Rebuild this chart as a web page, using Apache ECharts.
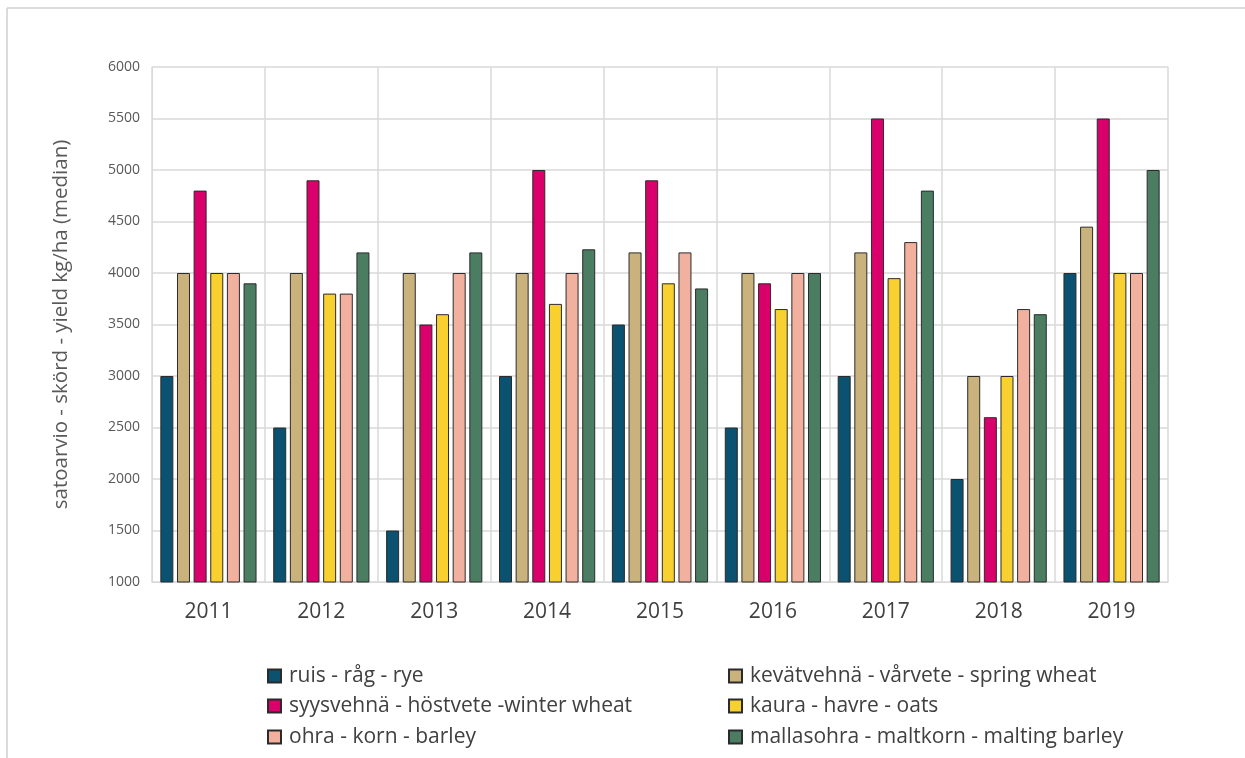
<!DOCTYPE html>
<html>
<head>
<meta charset="utf-8">
<script src="https://cdn.jsdelivr.net/npm/echarts@6/dist/echarts.min.js"></script>
<style>
html,body{margin:0;padding:0;background:#fff;}
#chart{width:1245px;height:758px;}
</style>
</head>
<body>
<div id="chart"></div>
<script>
const years = ['2011','2012','2013','2014','2015','2016','2017','2018','2019'];
const seriesNames = [
  'ruis - råg - rye',
  'kevätvehnä - vårvete - spring wheat',
  'syysvehnä - höstvete -winter wheat',
  'kaura - havre - oats',
  'ohra - korn - barley',
  'mallasohra - maltkorn - malting barley'
];
const rye          = [3000, 2500, 1500, 3000, 3500, 2500, 3000, 2000, 4000];
const springWheat  = [4000, 4000, 4000, 4000, 4200, 4000, 4200, 3000, 4450];
const winterWheat  = [4800, 4900, 3500, 5000, 4900, 3900, 5500, 2600, 5500];
const oats         = [4000, 3800, 3600, 3700, 3900, 3650, 3950, 3000, 4000];
const barley       = [4000, 3800, 4000, 4000, 4200, 4000, 4300, 3650, 4000];
const maltingBarley= [3900, 4200, 4200, 4230, 3850, 4000, 4800, 3600, 5000];
const yTicks = [1000, 1500, 2000, 2500, 3000, 3500, 4000, 4500, 5000, 5500, 6000];

const values = [rye, springWheat, winterWheat, oats, barley, maltingBarley];
const colors = ['#0b5170', '#c9b27c', '#d9006c', '#f8d030', '#f2b19e', '#4b7d62'];

// legend slots: [left, top] for each series, two columns x three rows
const legendLeft = [267, 728, 267, 728, 267, 728];
const legendTop  = [664, 664, 694, 694, 725, 725];

const chart = echarts.init(document.getElementById('chart'));
const option = {
  backgroundColor: '#ffffff',
  animation: false,
  textStyle: { fontFamily: 'Open Sans' },
  grid: { left: 152, right: 77, top: 67, bottom: 176 },
  xAxis: {
    type: 'category',
    data: years,
    axisLine: { show: true, lineStyle: { color: '#d9d9d9', width: 1 } },
    axisTick: { show: false },
    splitLine: { show: true, lineStyle: { color: '#d9d9d9', width: 1.5 } },
    axisLabel: { color: '#404040', fontSize: 21, margin: 20, fontFamily: 'Open Sans' }
  },
  yAxis: {
    type: 'value',
    min: yTicks[0],
    max: yTicks[yTicks.length - 1],
    interval: 500,
    name: 'satoarvio - skörd - yield kg/ha (median)',
    nameLocation: 'middle',
    nameRotate: 90,
    nameGap: 80,
    nameTextStyle: { color: '#595959', fontSize: 20.5, fontFamily: 'Open Sans' },
    axisLine: { show: true, lineStyle: { color: '#d9d9d9', width: 1 } },
    axisTick: { show: false },
    splitLine: { show: true, lineStyle: { color: '#d9d9d9', width: 1.5 } },
    axisLabel: { color: '#595959', fontSize: 14, margin: 12, fontFamily: 'Open Sans',
                 formatter: v => String(v) }
  },
  legend: seriesNames.map((name, i) => ({
    data: [name],
    left: legendLeft[i], top: legendTop[i],
    padding: 0,
    icon: 'rect',
    itemWidth: 13, itemHeight: 13,
    textStyle: { color: '#404040', fontSize: 21, lineHeight: 24, fontFamily: 'Open Sans', padding: [0, 0, 0, 3] }
  })),
  graphic: [
    { type: 'line', shape: { x1: 7, y1: 8, x2: 1245, y2: 8 }, style: { stroke: '#cfcfcf', lineWidth: 1.5 }, silent: true },
    { type: 'line', shape: { x1: 7, y1: 8, x2: 7, y2: 758 }, style: { stroke: '#cfcfcf', lineWidth: 1.5 }, silent: true }
  ],
  series: seriesNames.map((name, i) => ({
    name: name,
    type: 'bar',
    data: values[i],
    barWidth: 13,
    barGap: '28%',
    itemStyle: { color: colors[i], borderColor: '#2b2b2b', borderWidth: 1 }
  }))
};
chart.setOption(option);
</script>
</body>
</html>
